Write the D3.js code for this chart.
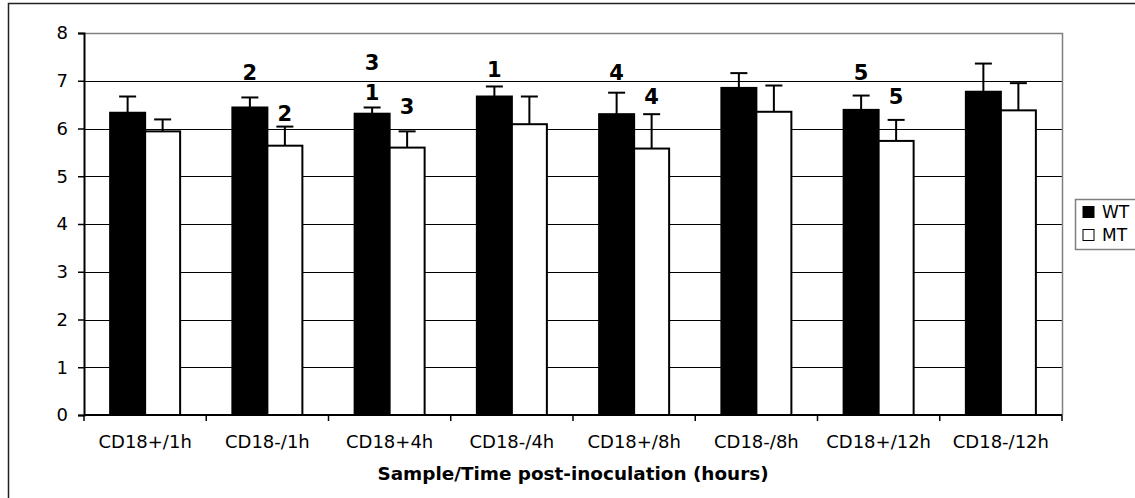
<!DOCTYPE html>
<html>
<head>
<meta charset="utf-8">
<script src="https://cdn.jsdelivr.net/npm/d3@7"></script>
<style>
  html, body { margin: 0; padding: 0; background: #fff; }
  svg { display: block; }
  text { font-family: "DejaVu Sans", Verdana, sans-serif; fill: #000; }
</style>
</head>
<body>
<script>
// Sample / time-point categories
const categories = ["CD18+/1h", "CD18-/1h", "CD18+4h", "CD18-/4h", "CD18+/8h", "CD18-/8h", "CD18+/12h", "CD18-/12h"];
const seriesNames = ["WT", "MT"];

// Means per series
const wtValues = [6.33, 6.44, 6.31, 6.67, 6.30, 6.85, 6.39, 6.77];
const mtValues = [5.94, 5.64, 5.60, 6.09, 5.58, 6.35, 5.74, 6.38];

// Upper error (SD) per series
const wtErrors = [0.34, 0.21, 0.13, 0.21, 0.45, 0.31, 0.30, 0.59];
const mtErrors = [0.25, 0.40, 0.34, 0.58, 0.72, 0.55, 0.44, 0.57];

// Y-axis ticks
const yTicks = [0, 1, 2, 3, 4, 5, 6, 7, 8];

// Significance markers: category, series, label, anchor value on the y scale
const markCategory = ["CD18-/1h", "CD18-/1h", "CD18+4h", "CD18+4h", "CD18+4h", "CD18-/4h", "CD18+/8h", "CD18+/8h", "CD18+/12h", "CD18+/12h"];
const markSeries   = ["WT", "MT", "WT", "WT", "MT", "WT", "WT", "MT", "WT", "MT"];
const markLabel    = ["2", "2", "3", "1", "3", "1", "4", "4", "5", "5"];
const markValue    = [7.02, 6.16, 7.23, 6.60, 6.30, 7.08, 7.02, 6.51, 7.02, 6.51];

const xTitle = "Sample/Time post-inoculation (hours)";

const W = 1135, H = 498;
const plot = { left: 84, right: 1062, top: 33, bottom: 415 };

const svg = d3.select("body").append("svg")
  .attr("width", W).attr("height", H);

// Outer chart frame
svg.append("path")
  .attr("d", `M8.5,${H + 5} V3.5 H${W + 5}`)
  .attr("fill", "none").attr("stroke", "#222").attr("stroke-width", 1.5);

const x = d3.scaleBand().domain(categories)
  .range([plot.left, plot.right])
  .paddingInner(0.4274).paddingOuter(0.2137);
const xs = d3.scaleBand().domain(seriesNames).range([0, x.bandwidth()]);
const y = d3.scaleLinear().domain([0, 8]).range([plot.bottom, plot.top]);

// Gridlines
svg.append("g").selectAll("line")
  .data(yTicks.filter(t => t > 0 && t < 8))
  .join("line")
  .attr("x1", plot.left).attr("x2", plot.right)
  .attr("y1", d => Math.round(y(d)) + 0.5).attr("y2", d => Math.round(y(d)) + 0.5)
  .attr("stroke", "#000").attr("stroke-width", 1);

// Plot-area border (top and right)
svg.append("path")
  .attr("d", `M${plot.left},${plot.top + 0.5} H${plot.right + 0.5} V${plot.bottom}`)
  .attr("fill", "none").attr("stroke", "#808080").attr("stroke-width", 1.5);

const rows = categories.map((c, i) => [
  { cat: c, s: "WT", v: wtValues[i], e: wtErrors[i] },
  { cat: c, s: "MT", v: mtValues[i], e: mtErrors[i] }
]).flat();

const bx = d => x(d.cat) + xs(d.s);

// Error bars (upper only)
const eb = svg.append("g").attr("stroke", "#000").attr("stroke-width", 2);
eb.selectAll("line.stem").data(rows).join("line").attr("class", "stem")
  .attr("x1", d => bx(d) + xs.bandwidth() / 2).attr("x2", d => bx(d) + xs.bandwidth() / 2)
  .attr("y1", d => y(d.v)).attr("y2", d => y(d.v + d.e));
eb.selectAll("line.cap").data(rows).join("line").attr("class", "cap")
  .attr("x1", d => bx(d) + xs.bandwidth() / 2 - 8.5).attr("x2", d => bx(d) + xs.bandwidth() / 2 + 8.5)
  .attr("y1", d => y(d.v + d.e)).attr("y2", d => y(d.v + d.e));

// Bars
svg.append("g").selectAll("rect").data(rows).join("rect")
  .attr("x", d => bx(d)).attr("width", xs.bandwidth())
  .attr("y", d => y(d.v)).attr("height", d => y(0) - y(d.v))
  .attr("fill", d => d.s === "WT" ? "#000" : "#fff")
  .attr("stroke", "#000").attr("stroke-width", 2);

// Y axis
const yAxis = d3.axisLeft(y).tickValues(yTicks).tickSize(6).tickPadding(10).tickFormat(d3.format("d"));
const gy = svg.append("g").attr("transform", `translate(${plot.left},0)`).call(yAxis);
gy.select(".domain").attr("stroke", "#000").attr("stroke-width", 2);
gy.selectAll(".tick line").attr("stroke", "#000").attr("stroke-width", 1.5);
gy.selectAll(".tick text").attr("font-size", 18).attr("font-family", "DejaVu Sans, sans-serif");

// X axis: ticks at category boundaries, labels centred under groups
const gx = svg.append("g");
gx.append("line")
  .attr("x1", plot.left).attr("x2", plot.right)
  .attr("y1", plot.bottom).attr("y2", plot.bottom)
  .attr("stroke", "#000").attr("stroke-width", 2);
const step = x.step();
gx.selectAll("line.tick").data(d3.range(categories.length + 1)).join("line").attr("class", "tick")
  .attr("x1", i => plot.left + i * step).attr("x2", i => plot.left + i * step)
  .attr("y1", plot.bottom).attr("y2", plot.bottom + 6)
  .attr("stroke", "#000").attr("stroke-width", 1.5);
gx.selectAll("text").data(categories).join("text")
  .attr("x", d => x(d) + x.bandwidth() / 2).attr("y", 448)
  .attr("text-anchor", "middle").attr("font-size", 18)
  .text(d => d);

svg.append("text")
  .attr("x", (plot.left + plot.right) / 2).attr("y", 480)
  .attr("text-anchor", "middle").attr("font-size", 18.4).attr("font-weight", "bold")
  .text(xTitle);

// Significance markers
svg.append("g").selectAll("text").data(markLabel).join("text")
  .attr("x", (d, i) => x(markCategory[i]) + xs(markSeries[i]) + xs.bandwidth() / 2)
  .attr("y", (d, i) => y(markValue[i]))
  .attr("text-anchor", "middle").attr("font-size", 21).attr("font-weight", "bold")
  .text(d => d);

// Legend
const lg = svg.append("g");
lg.append("rect").attr("x", 1075.5).attr("y", 199.5).attr("width", 100).attr("height", 50)
  .attr("fill", "#fff").attr("stroke", "#808080").attr("stroke-width", 1.5);
seriesNames.forEach((s, i) => {
  const cy = 212 + i * 23;
  lg.append("rect").attr("x", 1083).attr("y", cy - 5.5).attr("width", 11).attr("height", 11)
    .attr("fill", s === "WT" ? "#000" : "#fff").attr("stroke", "#000").attr("stroke-width", 1);
  lg.append("text").attr("x", 1102).attr("y", cy + 6).attr("font-size", 17).text(s);
});
</script>
</body>
</html>
